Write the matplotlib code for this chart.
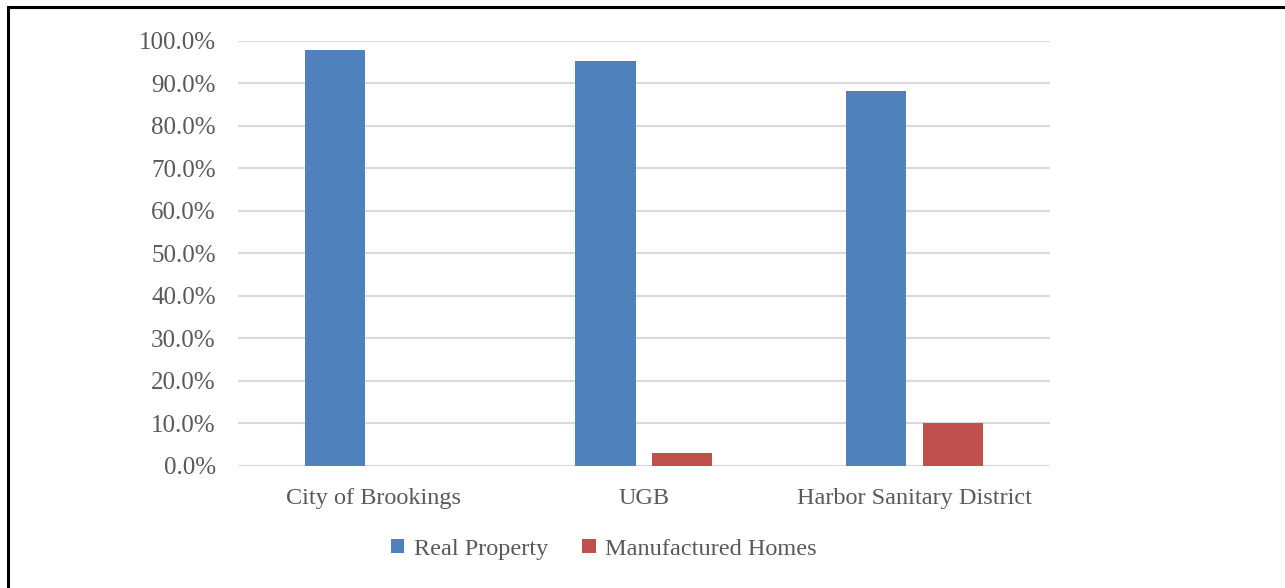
import numpy as np
import matplotlib.pyplot as plt
from matplotlib.patches import Rectangle
from matplotlib.ticker import PercentFormatter

places = ["City of Brookings", "UGB", "Harbor Sanitary District"]
real_property = [0.979, 0.953, 0.882]
manufactured = [0.0, 0.031, 0.101]

plt.rcParams['font.family'] = ['Liberation Serif', 'DejaVu Serif']
grey = '#595959'

fig = plt.figure(figsize=(12.85, 5.88), dpi=100)
ax = fig.add_axes([0.1852, 0.2075, 0.6319, 0.7228])

x = np.arange(len(places))
bw = 0.222
off = 0.142
ax.bar(x - off, real_property, bw, color='#4f81bd', label='Real Property', zorder=3)
ax.bar(x + off, manufactured, bw, color='#c0504d', label='Manufactured Homes', zorder=3)

ax.set_xlim(-0.5, 2.5)
ax.set_ylim(0, 1.0)
ax.set_yticks(np.arange(0, 1.01, 0.1))
ax.yaxis.set_major_formatter(PercentFormatter(1.0, decimals=1))
ax.set_xticks(x)
ax.set_xticklabels(places)
ax.grid(axis='y', color='#d9d9d9', linewidth=1.5, zorder=0)
for s in ax.spines.values():
    s.set_visible(False)
ax.tick_params(length=0, colors=grey)
ax.tick_params(axis='y', labelsize=18, pad=16)
ax.tick_params(axis='x', labelsize=17.5, pad=16)

ax.legend(loc='center', bbox_to_anchor=(0.47, 0.066), bbox_transform=fig.transFigure,
          ncol=2, frameon=False, fontsize=17.5, labelcolor=grey,
          handlelength=0.55, handleheight=0.55, handletextpad=0.4, columnspacing=1.4)

# border around the chart (right/bottom edges fall outside the image)
fig.patches.append(Rectangle((8 / 1285, -0.1), 1.2, 1 - 7 / 588 + 0.1,
                             transform=fig.transFigure, fill=False,
                             edgecolor='black', linewidth=2.2))

fig.savefig('out.png', dpi=100)
